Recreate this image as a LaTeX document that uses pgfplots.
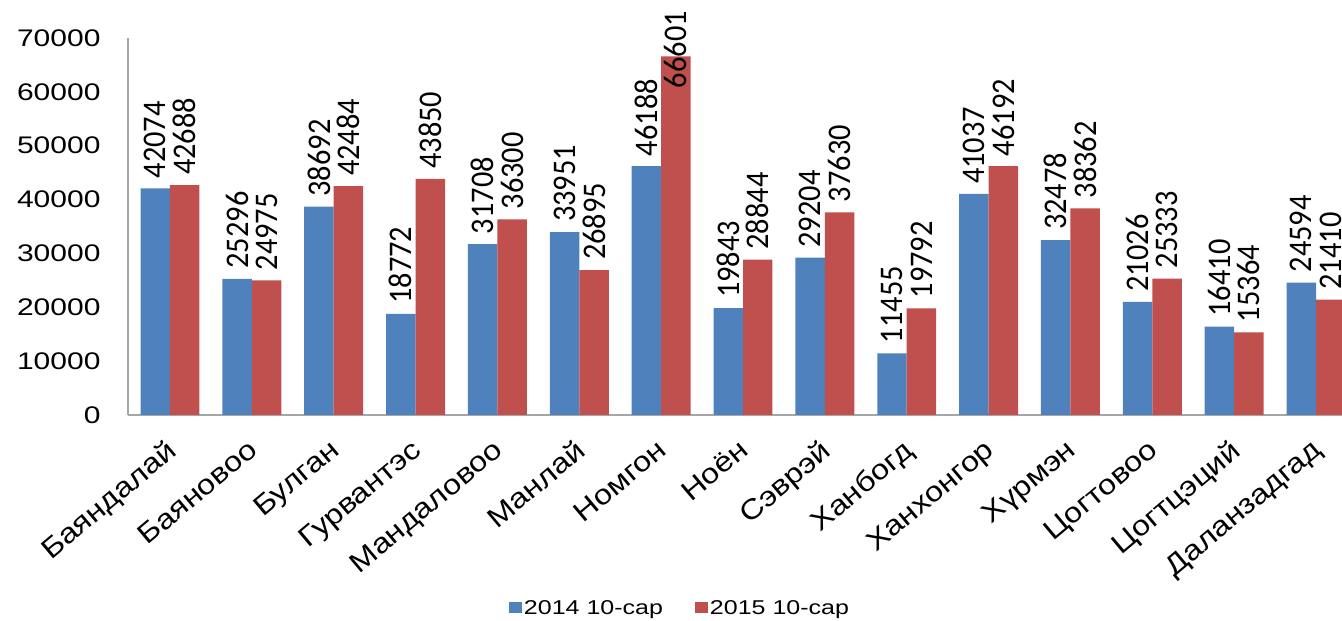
\documentclass[border=0pt]{standalone}
\usepackage{fontspec}
\setmainfont{Liberation Sans}[FakeStretch=1.25]
\newfontfamily\catfont{Liberation Sans}[FakeStretch=1.15]
\newfontfamily\labfont{Carlito}[FakeStretch=0.92]
\usepackage{pgfplots}
\usepackage{pgfplotstable}
\pgfplotsset{compat=1.18}
\definecolor{cblue}{HTML}{4F81BD}
\definecolor{cred}{HTML}{C0504D}

\pgfplotstableread{
x y off
0 42074 10
1 25296 10
2 38692 10
3 18772 10
4 31708 10
5 33951 10
6 46188 10
7 19843 10
8 29204 10
9 11455 10
10 41037 10
11 32478 10
12 21026 10
13 16410 10
14 24594 10
}\dataA

\pgfplotstableread{
x y off
0 42688 10
1 24975 10
2 42484 10
3 43850 10
4 36300 10
5 26895 10
6 66601 -32
7 28844 10
8 37630 10
9 19792 10
10 46192 10
11 38362 10
12 25333 10
13 15364 10
14 21410 10
}\dataB

\begin{document}
\begin{tikzpicture}
\begin{axis}[
  at={(128pt,206pt)}, anchor=south west,
  width=1214pt, height=377pt, scale only axis,
  xmin=-0.513, xmax=14.317, ymin=0, ymax=70000,
  ybar=0pt, bar width=0.36,
  axis x line=bottom, axis y line=left,
  axis line style={draw=black!35, line width=1.5pt, -},
  major tick length=0pt,
  ytick={0,10000,...,70000},
  scaled y ticks=false,
  /pgf/number format/assume math mode=true,
  /pgf/number format/1000 sep={},
  yticklabel style={font=\fontsize{24}{28}\selectfont, xshift=-24pt},
  xtick={0,...,14},
  xticklabels={Баяндалай,Баяновоо,Булган,Гурвантэс,Мандаловоо,Манлай,Номгон,Ноён,Сэврэй,Ханбогд,Ханхонгор,Хүрмэн,Цогтовоо,Цогтцэций,Даланзадгад},
  xticklabel style={xshift=-5pt, yshift=-18pt, rotate=40, anchor=north east, font=\catfont\fontsize{28}{31}\selectfont},
  clip=false,
  nodes near coords,
  visualization depends on={\thisrow{off} \as \myoff},
  every node near coord/.append style={font=\labfont\fontsize{33}{36}\selectfont, rotate=90, anchor=west, inner sep=0pt, xshift=\myoff pt},
  legend columns=2,
  legend style={at={(0.4547,-0.512)}, anchor=center, draw=none, font=\fontsize{20}{24}\selectfont,
    /tikz/every even column/.append style={column sep=30pt}},
  legend image code/.code={\fill[#1,draw=none] (0pt,-5pt) rectangle (13pt,6pt);},
]
\addplot[fill=cblue, draw=none] table[x=x, y=y] {\dataA};
\addplot[fill=cred, draw=none] table[x=x, y=y] {\dataB};
\legend{2014 10-сар, 2015 10-сар}
\end{axis}
\pgfresetboundingbox
\path (0,0) rectangle (1342pt,621pt);
\end{tikzpicture}
\end{document}
